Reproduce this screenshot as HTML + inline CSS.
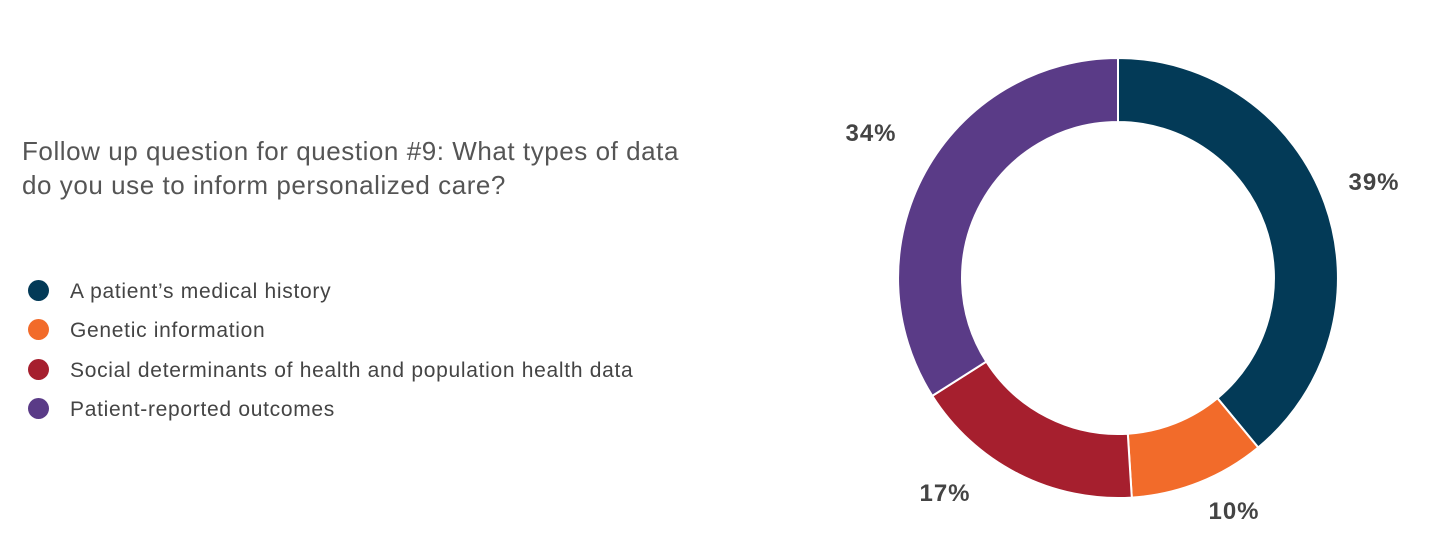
<!DOCTYPE html>
<html><head><meta charset="utf-8"><style>
body{margin:0;width:1430px;height:550px;background:#fff;font-family:"Liberation Sans",sans-serif;overflow:hidden;position:relative}
.t{position:absolute;left:22px;top:134px;font-size:26px;letter-spacing:0.55px;line-height:34px;color:#555;font-weight:300}
.lg{position:absolute;left:28px;font-size:21px;letter-spacing:0.7px;color:#444;line-height:24px}
.lg span{display:inline-block;width:21px;height:21px;border-radius:50%;vertical-align:middle;margin-right:21px;position:relative;top:-2px}
</style></head><body>
<div class="t">Follow up question for question #9: What types of data<br>do you use to inform personalized care?</div>
<div class="lg" style="top:280px"><span style="background:#033a57"></span>A patient’s medical history</div>
<div class="lg" style="top:319px"><span style="background:#f26b2a"></span>Genetic information</div>
<div class="lg" style="top:359px"><span style="background:#a61f2e"></span>Social determinants of health and population health data</div>
<div class="lg" style="top:398px"><span style="background:#5a3b87"></span>Patient-reported outcomes</div>
<svg width="1430" height="550" style="position:absolute;left:0;top:0">
<g stroke="#fff" stroke-width="2">
<path fill="#033a57" d="M1118 58 A220 220 0 0 1 1258.2 447.5 L1217.4 398.2 A156 156 0 0 0 1118 122 Z"/>
<path fill="#f26b2a" d="M1258.2 447.5 A220 220 0 0 1 1131.8 497.6 L1127.8 433.7 A156 156 0 0 0 1217.4 398.2 Z"/>
<path fill="#a61f2e" d="M1131.8 497.6 A220 220 0 0 1 932.3 395.9 L986.3 361.6 A156 156 0 0 0 1127.8 433.7 Z"/>
<path fill="#5a3b87" d="M932.3 395.9 A220 220 0 0 1 1118 58 L1118 122 A156 156 0 0 0 986.3 361.6 Z"/>
</g>
<g font-family="Liberation Sans,sans-serif" font-weight="bold" font-size="24" letter-spacing="1" fill="#444" text-anchor="middle">
<text x="1374" y="190">39%</text>
<text x="1234" y="519">10%</text>
<text x="945" y="501">17%</text>
<text x="871" y="141">34%</text>
</g>
</svg>
</body></html>
